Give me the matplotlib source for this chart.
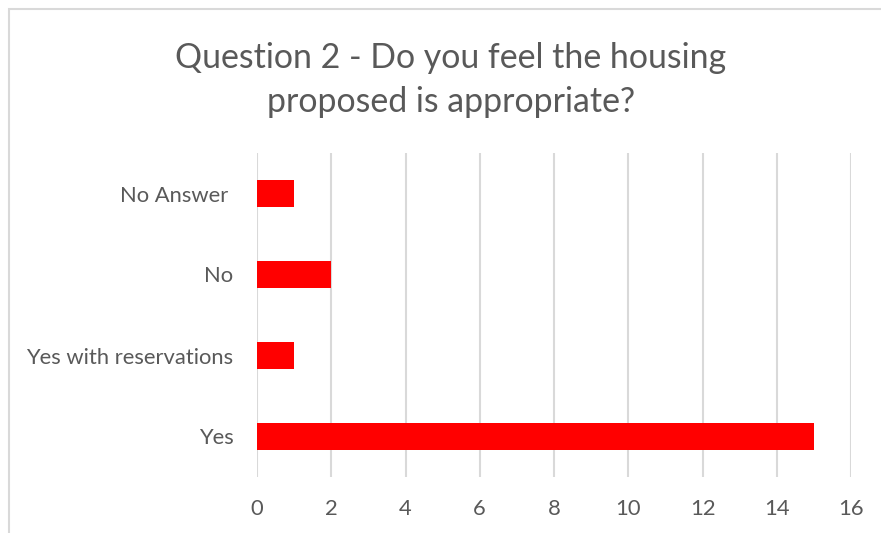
import matplotlib
matplotlib.use("Agg")
from matplotlib import pyplot as plt
from matplotlib.patches import Rectangle

# Survey responses, bottom to top
answers = ["Yes", "Yes with reservations", "No", "No Answer "]
counts = [15, 1, 2, 1]
xticks = [0, 2, 4, 6, 8, 10, 12, 14, 16]

TEXT = "#595959"
GRID = "#d9d9d9"

plt.rcParams["font.family"] = ["Lato", "DejaVu Sans"]

W, H = 881, 533
fig = plt.figure(figsize=(W / 100, H / 100), dpi=100)

# chart frame, running off the right and bottom edge
fig.patches.append(Rectangle((9 / W, -0.1), 1.2, 1 - 9 / H + 0.1,
                             transform=fig.transFigure, fill=False,
                             edgecolor="#d9d9d9", linewidth=1.5))

ax = fig.add_axes([257 / W, (H - 477) / H, (851 - 257) / W, (477 - 153) / H])
ax.barh(range(len(answers)), counts, height=0.345, color="#ff0000", zorder=3)

ax.set_xlim(0, 16)
ax.set_ylim(-0.5, len(answers) - 0.5)
ax.set_xticks(xticks)
ax.set_yticks(range(len(answers)))
ax.set_yticklabels(answers)
ax.tick_params(length=0, labelsize=15.8, labelcolor=TEXT)
ax.tick_params(axis="y", pad=17)
ax.tick_params(axis="x", pad=16)
ax.grid(axis="x", color=GRID, linewidth=1.5, zorder=0)
for side in ax.spines.values():
    side.set_visible(False)

fig.text(451 / W, 1 - 80 / H, "Question 2 - Do you feel the housing\nproposed is appropriate?",
         ha="center", va="center", fontsize=24.4, color=TEXT, linespacing=1.45)

fig.savefig("out.png", dpi=100)
